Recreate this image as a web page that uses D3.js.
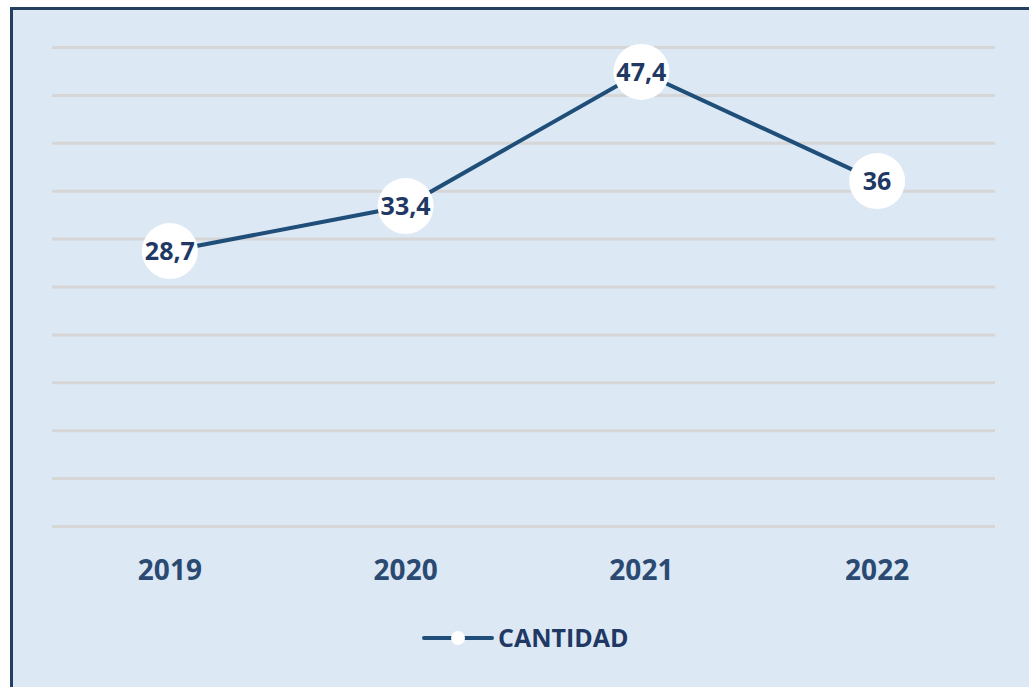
<!DOCTYPE html>
<html>
<head>
<meta charset="utf-8">
<script src="https://cdn.jsdelivr.net/npm/d3@7"></script>
<style>
  html, body { margin: 0; padding: 0; background: #fff; }
  svg { display: block; }
</style>
</head>
<body>
<script>
const years = ["2019", "2020", "2021", "2022"];
const cantidad = [28.7, 33.4, 47.4, 36];
const yTicks = [0, 5, 10, 15, 20, 25, 30, 35, 40, 45, 50];
const seriesName = "CANTIDAD";

const W = 1029, H = 687;
const margins = { left: 52, right: 34, top: 47, bottom: 161 };
const _w = W - margins.left - margins.right;
const _h = H - margins.top - margins.bottom;

const lineColor = "#1f4e79";
const textColor = "#1f3864";
const font = "'Open Sans', 'Liberation Sans', sans-serif";

const svg = d3.select("body").append("svg")
	.attr("width", W)
	.attr("height", H);

// background + frame (only left/top edges visible)
svg.append("rect")
	.attr("x", 11.5).attr("y", 8.5)
	.attr("width", 1100).attr("height", 800)
	.attr("fill", "#dde8f5")
	.attr("stroke", "#243f60")
	.attr("stroke-width", 3);

const g = svg.append("g")
	.attr("transform", "translate(" + margins.left + "," + margins.top + ")");

const x = d3.scaleBand().domain(years).range([0, _w]);
const y = d3.scaleLinear().domain([0, 50]).range([_h, 0]);

// gridlines
g.append("g")
	.call(d3.axisLeft(y).tickValues(yTicks).tickSize(-_w).tickFormat(""))
	.call(a => a.select(".domain").remove())
	.selectAll("line")
	.attr("stroke", "#d6d6d6")
	.attr("stroke-width", 3);

// x axis labels
g.append("g")
	.attr("transform", "translate(0," + _h + ")")
	.call(d3.axisBottom(x).tickSize(0).tickPadding(34))
	.call(a => a.select(".domain").remove())
	.selectAll("text")
	.attr("font-family", font)
	.attr("font-weight", 700)
	.attr("font-size", 28)
	.attr("fill", "#2a4a72");

const data = years.map((yr, i) => ({ yr, v: cantidad[i] }));
const cx = d => x(d.yr) + x.bandwidth() / 2;

g.append("path")
	.datum(data)
	.attr("fill", "none")
	.attr("stroke", lineColor)
	.attr("stroke-width", 4)
	.attr("d", d3.line().x(cx).y(d => y(d.v)));

g.selectAll("circle.pt")
	.data(data)
	.join("circle")
	.attr("class", "pt")
	.attr("cx", cx)
	.attr("cy", d => y(d.v))
	.attr("r", 28)
	.attr("fill", "#fff");

g.selectAll("text.lbl")
	.data(data)
	.join("text")
	.attr("class", "lbl")
	.attr("x", cx)
	.attr("y", d => y(d.v))
	.attr("dy", "0.36em")
	.attr("text-anchor", "middle")
	.attr("font-family", font)
	.attr("font-weight", 700)
	.attr("font-size", 25)
	.attr("fill", textColor)
	.text(d => String(d.v).replace(".", ","));

// legend
const lg = svg.append("g").attr("transform", "translate(424,638)");
lg.append("line")
	.attr("x1", 0).attr("x2", 68)
	.attr("stroke", lineColor)
	.attr("stroke-width", 4)
	.attr("stroke-linecap", "round");
lg.append("circle").attr("cx", 34).attr("r", 7).attr("fill", "#fff");
lg.append("text")
	.attr("x", 74)
	.attr("dy", "0.36em")
	.attr("font-family", font)
	.attr("font-weight", 700)
	.attr("font-size", 25)
	.attr("fill", textColor)
	.text(seriesName);
</script>
</body>
</html>
